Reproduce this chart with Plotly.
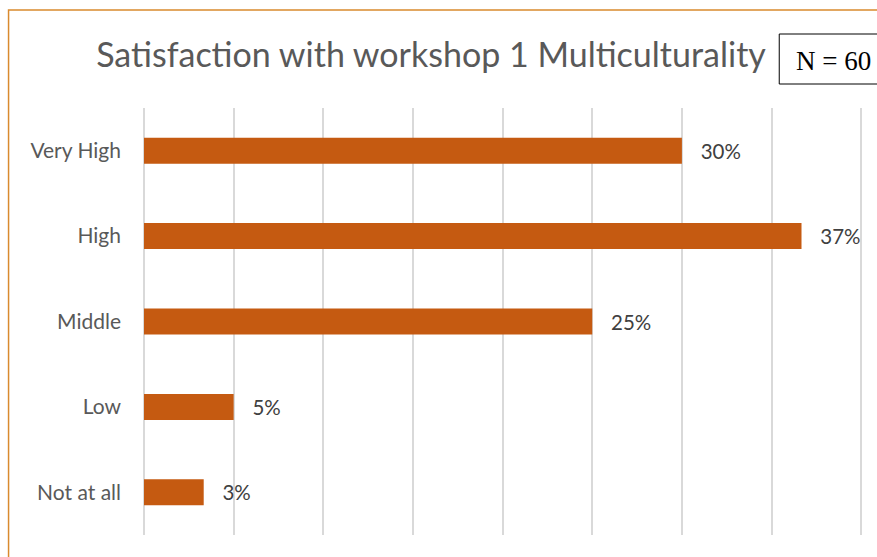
import plotly.graph_objects as go

categories = ["Very High", "High", "Middle", "Low", "Not at all"]
percent = [30.0, 36.67, 25.0, 5.0, 3.33]
title_text = "Satisfaction with workshop 1 Multiculturality"
n_label = "N = 60"

W, H = 877, 557
L, R, T, B = 143.5, 14.2, 108, 22
pw, ph = W - L - R, H - T - B

def px_x(p):
    return (p - L) / pw

def px_y(p):
    return (H - B - p) / ph

fig = go.Figure(go.Bar(
    x=percent, y=categories, orientation="h",
    marker=dict(color="#C55A11", line=dict(width=0)),
    width=0.305,
    texttemplate="\u00a0\u00a0\u00a0%{x:.0f}%",
    textposition="outside",
    constraintext="none",
    cliponaxis=False,
    textfont=dict(family="Lato", size=20.5, color="#404040"),
    hoverinfo="skip",
))

fig.update_layout(
    width=W, height=H,
    margin=dict(l=L, r=R, t=T, b=B),
    paper_bgcolor="white", plot_bgcolor="white",
    showlegend=False,
    title=dict(text=title_text, x=431 / W, xanchor="center", y=1 - 55 / H, yanchor="middle",
               font=dict(family="Lato", size=34, color="#595959")),
    xaxis=dict(range=[0, 40.1], tickvals=[0, 5, 10, 15, 20, 25, 30, 35, 40],
               showticklabels=False, showgrid=True,
               gridcolor="#D9D9D9", gridwidth=1.5, zeroline=True, zerolinecolor="#D9D9D9",
               zerolinewidth=1.5, showline=False, fixedrange=True),
    yaxis=dict(categoryorder="array", categoryarray=categories, autorange="reversed",
               showgrid=False, zeroline=False, showline=False, ticks="",
               ticklabelstandoff=22, fixedrange=True,
               tickfont=dict(family="Lato", size=21, color="#595959")),
    shapes=[
        dict(type="rect", xref="paper", yref="paper",
             x0=px_x(8), x1=px_x(940), y0=px_y(620), y1=px_y(10),
             line=dict(color="#D98A2E", width=1.5), fillcolor="rgba(0,0,0,0)", layer="above"),
        dict(type="rect", xref="paper", yref="paper",
             x0=px_x(779), x1=px_x(940), y0=px_y(84), y1=px_y(34),
             line=dict(color="black", width=1), fillcolor="white", layer="above"),
    ],
    annotations=[
        dict(text=n_label, xref="paper", yref="paper", x=px_x(794), y=px_y(61),
             xanchor="left", yanchor="middle", showarrow=False,
             font=dict(family="Liberation Serif", size=27, color="black")),
    ],
)

fig.write_html("out.html", config={"displayModeBar": False},
               post_script="document.body.style.margin='0px';document.body.style.overflow='hidden';")
